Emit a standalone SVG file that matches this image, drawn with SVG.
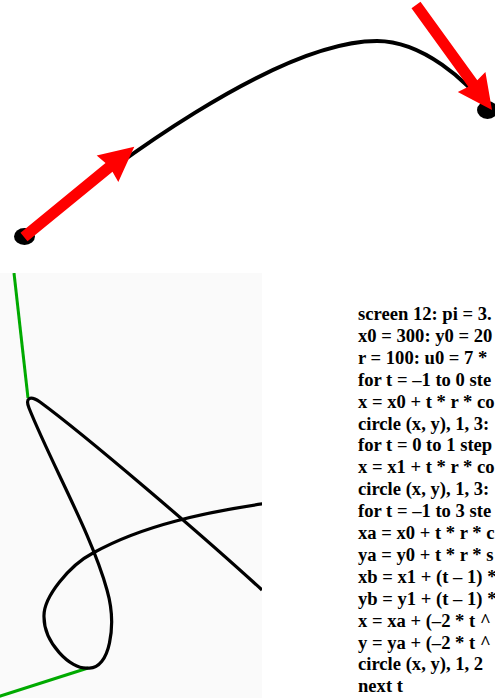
<svg xmlns="http://www.w3.org/2000/svg" width="495" height="698" viewBox="0 0 495 698">
<style>
.code{font-family:"Liberation Serif","Times New Roman",serif;font-weight:bold;font-size:18.6px;fill:#000}
.curve{fill:none;stroke:#000;stroke-width:4;stroke-linecap:round;stroke-linejoin:round}
.arrow{fill:#ff0000;stroke:none}
.tan{fill:none;stroke:#00aa00;stroke-width:3}
.loop{fill:none;stroke:#000;stroke-width:3.2;stroke-linejoin:round}
</style>
<defs>
<clipPath id="panelClip"><rect x="0" y="273" width="262" height="425"/></clipPath>
</defs>
<rect x="0" y="0" width="495" height="698" fill="#fff"/>
<g id="connectors">
<path class="curve" d="M24.5,236.5 C109.5,166.8 277,41 377,41 C422,41 468.3,81.1 487.5,110"/>
</g>
<g id="dot-start"><ellipse cx="24.5" cy="236.5" rx="10.5" ry="8.5" fill="#000"/></g>
<g id="dot-end"><ellipse cx="487.5" cy="110" rx="10.5" ry="9" fill="#000"/></g>
<g id="arrow-start"><polygon class="arrow" points="20.5,232.7 105.5,163.1 96.7,155.5 134.3,146.7 118.3,181.9 112.5,171.7 27.5,241.3"/></g>
<g id="arrow-end"><polygon class="arrow" points="420.5,1.8 477.3,80.3 485.4,71.9 492,110 457.8,91.9 468.3,86.7 411.5,8.2"/></g>
<g id="panel" clip-path="url(#panelClip)">
<rect x="0" y="273" width="262" height="425" fill="#fafafa"/>
<line class="tan" x1="14" y1="273" x2="28" y2="398"/>
<line class="tan" x1="88" y1="668" x2="-12" y2="700"/>
<path class="loop" d="M262,590 C202,535 85,435 40,402 C30,395 25,398 29,408 C51,463 92,535 107,590 C117,625 110,670 88,668 C70,670 44,642 44,617 C43,597 70,565 93,553 C143,525 207,512 265,503.5"/>
</g>
<g id="code">
<text class="code" x="358" y="320">screen 12: pi = 3.</text>
<text class="code" x="358" y="341.9">x0 = 300: y0 = 20</text>
<text class="code" x="358" y="363.8">r = 100: u0 = 7 *</text>
<text class="code" x="358" y="385.7">for t = –1 to 0 ste</text>
<text class="code" x="358" y="407.6">x = x0 + t * r * co</text>
<text class="code" x="358" y="429.5">circle (x, y), 1, 3:</text>
<text class="code" x="358" y="451.4">for t = 0 to 1 step</text>
<text class="code" x="358" y="473.3">x = x1 + t * r * co</text>
<text class="code" x="358" y="495.2">circle (x, y), 1, 3:</text>
<text class="code" x="358" y="517.1">for t = –1 to 3 ste</text>
<text class="code" x="358" y="539">xa = x0 + t * r * c</text>
<text class="code" x="358" y="560.9">ya = y0 + t * r * s</text>
<text class="code" x="358" y="582.8">xb = x1 + (t – 1) *</text>
<text class="code" x="358" y="604.7">yb = y1 + (t – 1) *</text>
<text class="code" x="358" y="626.6">x = xa + (–2 * t ^</text>
<text class="code" x="358" y="648.5">y = ya + (–2 * t ^</text>
<text class="code" x="358" y="670.4">circle (x, y), 1, 2</text>
<text class="code" x="358" y="692.3">next t</text>
</g>
</svg>
